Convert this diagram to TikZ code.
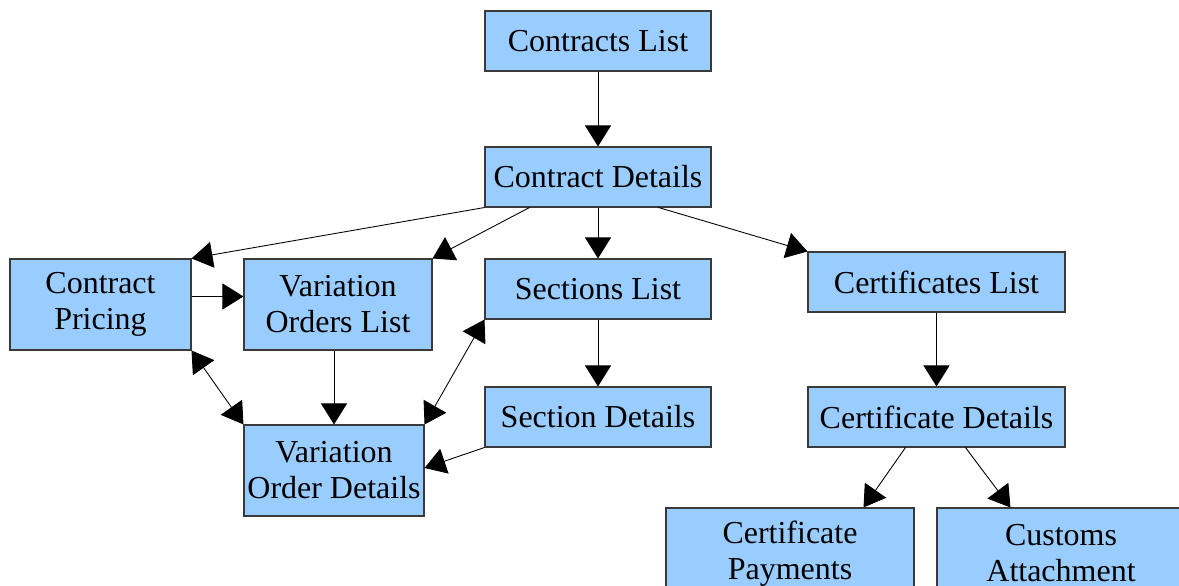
\documentclass[tikz,border=0pt]{standalone}
\usepackage{fontspec}
\setmainfont{Liberation Serif}
\usetikzlibrary{arrows.meta,calc}

\definecolor{boxfill}{HTML}{99CCFF}
\definecolor{boxline}{HTML}{3A3A3A}

\tikzset{
    screen/.style={draw=boxline, fill=boxfill, line width=0.6pt, inner sep=0pt,
        align=center, font=\fontsize{18.2}{20.5}\selectfont},
    link/.style={-{Triangle[length=4.2mm,width=5.2mm]}, line width=0.5pt},
    twolink/.style={{Triangle[length=4.2mm,width=5.2mm]}-{Triangle[length=4.2mm,width=5.2mm]}, line width=0.5pt}
}

\begin{document}
\begin{tikzpicture}

        \clip (00.00,00.00) rectangle (23.58,11.72);

        % Contracts List
        \node [screen, minimum width=4.52cm, minimum height=1.20cm] (contractslist) at (11.96,10.90) {Contracts List};

        % Contract Details
        \node [screen, minimum width=4.52cm, minimum height=1.20cm] (contractdetails) at (11.96,08.18) {Contract Details};

        % Contract Pricing
        \node [screen, minimum width=3.62cm, minimum height=1.82cm] (contractpricing) at (02.01,05.63) {Contract\\Pricing};

        % Variation Orders List
        \node [screen, minimum width=3.76cm, minimum height=1.82cm] (variationlist) at (06.76,05.63) {Variation\\Orders List};

        % Sections List
        \node [screen, minimum width=4.52cm, minimum height=1.20cm] (sectionslist) at (11.96,05.94) {Sections List};

        % Certificates List
        \node [screen, minimum width=5.14cm, minimum height=1.20cm] (certificateslist) at (18.73,06.08) {Certificates List};

        % Section Details
        \node [screen, minimum width=4.52cm, minimum height=1.20cm] (sectiondetails) at (11.96,03.38) {Section Details};

        % Variation Order Details
        \node [screen, minimum width=3.60cm, minimum height=1.82cm] (variationdetails) at (06.68,02.31) {Variation\\Order Details};

        % Certificate Details
        \node [screen, minimum width=5.14cm, minimum height=1.20cm] (certificatedetails) at (18.73,03.38) {Certificate Details};

        % Certificate Payments
        \node [screen, minimum width=4.96cm, minimum height=1.82cm] (certificatepayments) at (15.80,00.65) {Certificate\\Payments};

        % Customs Attachment
        \node [screen, minimum width=4.96cm, minimum height=1.82cm] (customsattachment) at (21.22,00.65) {Customs\\Attachment};

        % Contracts List -> Contract Details
        \draw [link] (contractslist.south) -- (contractdetails.north);

        % Contract Details -> lists
        \draw [link] (contractdetails.south west) -- (contractpricing.north east);
        \draw [link] ($(contractdetails.south west)+(00.90,00.00)$) -- (variationlist.north east);
        \draw [link] (contractdetails.south) -- (sectionslist.north);
        \draw [link] ($(contractdetails.south east)+(-01.06,00.00)$) -- (certificateslist.north west);

        % Contract Pricing -> Variation Orders List
        \draw [link] ($(contractpricing.north east)+(00.00,-00.76)$) -- ($(variationlist.north west)+(00.00,-00.76)$);

        % Contract Pricing <-> Variation Order Details
        \draw [twolink] (contractpricing.south east) -- (variationdetails.north west);

        % Variation Orders List -> Variation Order Details
        \draw [link] (variationlist.south -| variationdetails.north) -- (variationdetails.north);

        % Sections List <-> Variation Order Details
        \draw [twolink] (sectionslist.south west) -- (variationdetails.north east);

        % Sections List -> Section Details
        \draw [link] (sectionslist.south) -- (sectiondetails.north);

        % Section Details -> Variation Order Details
        \draw [link] (sectiondetails.south west) -- ($(variationdetails.east)+(00.00,00.05)$);

        % Certificates List -> Certificate Details
        \draw [link] (certificateslist.south) -- (certificatedetails.north);

        % Certificate Details -> Payments, Attachment
        \draw [link] ($(certificatedetails.south west)+(01.96,00.00)$) -- ($(certificatepayments.north east)+(-01.02,00.00)$);
        \draw [link] ($(certificatedetails.south west)+(03.16,00.00)$) -- ($(customsattachment.north west)+(01.48,00.00)$);

    \end{tikzpicture}
\end{document}
